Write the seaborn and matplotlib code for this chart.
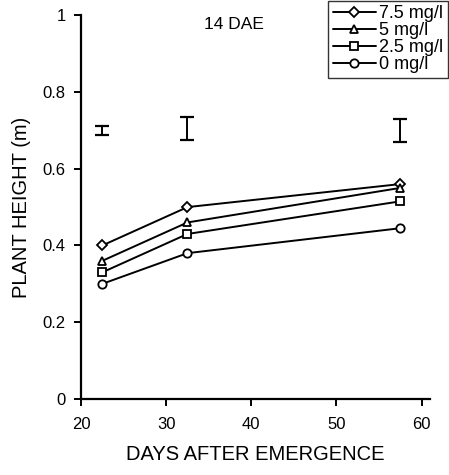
import pandas as pd
import matplotlib.pyplot as plt
import seaborn as sns

# data
days = [22.5, 32.5, 57.5]
h_75 = [0.40, 0.50, 0.56]
h_5 = [0.36, 0.46, 0.55]
h_25 = [0.33, 0.43, 0.515]
h_0 = [0.30, 0.38, 0.445]
labels = ["7.5 mg/l", "5 mg/l", "2.5 mg/l", "0 mg/l"]
markers = ["D", "^", "s", "o"]

# LSD bars
err_y = [0.70, 0.705, 0.70]
err_half = [0.012, 0.029, 0.03]

sns.set_style("ticks")
plt.rcParams["font.family"] = ["Liberation Sans", "DejaVu Sans"]
plt.rcParams.update({"text.color": "black", "axes.labelcolor": "black",
                     "xtick.color": "black", "ytick.color": "black"})

fig = plt.figure(figsize=(4.49, 4.75), dpi=100)
ax = fig.add_axes([0.1804, 0.16, 0.7776, 0.808])

for vals, lab, m in zip([h_75, h_5, h_25, h_0], labels, markers):
    df = pd.DataFrame({"day": days, "h": vals})
    sns.lineplot(data=df, x="day", y="h", ax=ax, color="black", marker=m,
                 markersize=6 if m != "D" else 5.5, markerfacecolor="white",
                 markeredgecolor="black", markeredgewidth=1.3, linewidth=1.4,
                 label=lab)

ax.errorbar(days, err_y, yerr=err_half, fmt="none", ecolor="black",
            elinewidth=1.4, capsize=5, capthick=1.6)

ax.set_xlim(20, 61)
ax.set_ylim(0, 1)
ax.set_xticks([20, 30, 40, 50, 60])
ax.set_yticks([0, 0.2, 0.4, 0.6, 0.8, 1])
ax.set_yticklabels(["0", "0.2", "0.4", "0.6", "0.8", "1"])
ax.tick_params(labelsize=12, width=1.4, length=5, color="black")
ax.tick_params(axis="x", pad=8)
ax.tick_params(axis="y", pad=6)
sns.despine(ax=ax)
for s in ["left", "bottom"]:
    ax.spines[s].set_linewidth(1.6)
    ax.spines[s].set_color("black")

ax.set_xlabel("DAYS AFTER EMERGENCE", fontsize=14.5, labelpad=9)
ax.set_ylabel("PLANT HEIGHT (m)", fontsize=14.5, labelpad=8)
ax.text(0.437, 0.975, "14 DAE", transform=ax.transAxes, fontsize=12.5,
        ha="center", va="center")

ax.legend(loc="upper right", bbox_to_anchor=(1.0, 1.0),
          bbox_transform=fig.transFigure, frameon=True,
          fancybox=False, edgecolor="black", fontsize=13, handlelength=2.4,
          handletextpad=0.2, labelspacing=0.0, borderpad=0.25,
          borderaxespad=0.05)

fig.savefig("out.png", dpi=100)
